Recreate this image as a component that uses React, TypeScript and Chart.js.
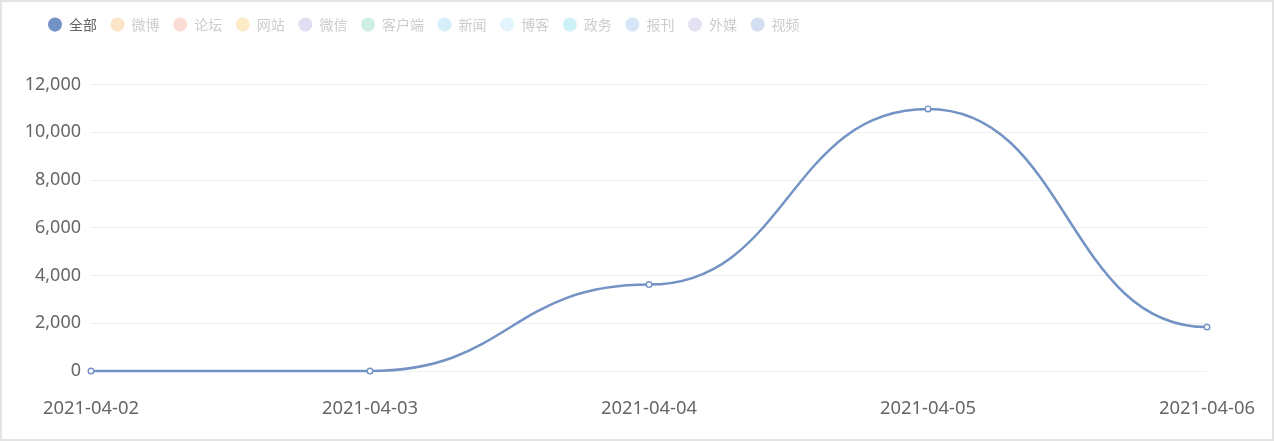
import React, { useEffect, useRef } from "react";
import { Chart, registerables } from "chart.js";

Chart.register(...registerables);

const categories = ["2021-04-02", "2021-04-03", "2021-04-04", "2021-04-05", "2021-04-06"];
const totalValues = [0, 0, 3620, 10980, 1840];
const legendNames = ["全部", "微博", "论坛", "网站", "微信", "客户端", "新闻", "博客", "政务", "报刊", "外媒", "视频"];
const legendColors = [
  "#7393c4", "#fde3c8", "#fbdcd7", "#fdebc8", "#e3ddf3", "#cdf0e3",
  "#d4eefa", "#e3f5fc", "#cdf1f7", "#d5e6f8", "#e3e2f5", "#d3dff1",
];
const legendActive = [true, false, false, false, false, false, false, false, false, false, false, false];
const yTicks = { min: 0, max: 12000, step: 2000 };

const SMOOTH = 0.5;
const LINE_COLOR = "#7393c4";
const LEGEND_SHIFT = 32.4;

// ECharts-like smoothing (horizontal tangents at each point)
const monotoneXSmooth = {
  id: "monotoneXSmooth",
  beforeDatasetDraw(chart: any, args: any) {
    const meta = args.meta;
    const line = meta.dataset;
    const pts = meta.data;
    if (!line || !pts) return;
    if (typeof line.updateControlPoints === "function") {
      line.updateControlPoints(chart.chartArea, "x");
    }
    for (let i = 0; i < pts.length; i++) {
      const p = pts[i];
      const prev = pts[i - 1];
      const next = pts[i + 1];
      p.cp1x = prev ? p.x - SMOOTH * (p.x - prev.x) : p.x;
      p.cp1y = p.y;
      p.cp2x = next ? p.x + SMOOTH * (next.x - p.x) : p.x;
      p.cp2y = p.y;
    }
    line._path = undefined;
  },
};

const legendOffset = {
  id: "legendOffset",
  afterLayout(chart: any) {
    const lg = chart.legend;
    if (lg) lg.left = lg.left + LEGEND_SHIFT;
  },
};

export default function App() {
  const canvasRef = useRef<HTMLCanvasElement | null>(null);

  useEffect(() => {
    if (!canvasRef.current) return;
    const chart = new Chart(canvasRef.current, {
      type: "line",
      data: {
        labels: categories,
        datasets: [
          {
            label: legendNames[0],
            data: totalValues,
            borderColor: LINE_COLOR,
            backgroundColor: LINE_COLOR,
            borderWidth: 2.5,
            tension: 0.4,
            fill: false,
            pointRadius: 2.8,
            pointBorderWidth: 1.4,
            pointBackgroundColor: "#ffffff",
            pointBorderColor: LINE_COLOR,
            clip: false as any,
          },
        ],
      },
      options: {
        responsive: true,
        maintainAspectRatio: false,
        animation: false,
        events: [],
        layout: { padding: { top: 2, left: 0, right: 65, bottom: 19.4 } },
        plugins: {
          tooltip: { enabled: false },
          legend: {
            display: true,
            position: "top",
            align: "start",
            weight: 3000,
            labels: {
              usePointStyle: true,
              pointStyle: "circle",
              boxHeight: 10,
              pointStyleWidth: 14,
              padding: 13.6,
              font: { family: '"Noto Sans CJK SC", "Noto Sans", sans-serif', size: 14 },
              generateLabels: () =>
                legendNames.map((name, i) => ({
                  text: name,
                  fillStyle: legendColors[i],
                  strokeStyle: legendColors[i],
                  lineWidth: 0,
                  hidden: false,
                  fontColor: legendActive[i] ? "#666666" : "#cccccc",
                  pointStyle: "circle",
                  datasetIndex: 0,
                })) as any,
            },
          } as any,
          title: {
            display: true,
            text: "",
            weight: 500,
            font: { size: 10, lineHeight: 1 },
            padding: { top: 0, bottom: 33 },
          } as any,
        },
        scales: {
          x: {
            type: "category",
            offset: false,
            grid: { display: false, drawTicks: false },
            border: { display: false },
            afterFit: (scale: any) => {
              scale.height = 48.6;
              scale.paddingLeft = 0;
              scale.paddingRight = 0;
            },
            ticks: {
              padding: 27,
              autoSkip: false,
              maxRotation: 0,
              color: "#666666",
              font: { family: '"Noto Sans", sans-serif', size: 18.4 },
            },
          },
          y: {
            min: yTicks.min,
            max: yTicks.max,
            grid: { color: "#efefef", lineWidth: 1, drawTicks: false },
            border: { display: false },
            afterFit: (scale: any) => {
              scale.width = 89;
            },
            ticks: {
              stepSize: yTicks.step,
              padding: 10,
              color: "#666666",
              font: { family: '"Noto Sans", sans-serif', size: 18 },
              callback: (v: any) => Number(v).toLocaleString("en-US"),
            },
          },
        },
      },
      plugins: [monotoneXSmooth, legendOffset],
    });
    return () => chart.destroy();
  }, []);

  return (
    <div
      style={{
        position: "absolute",
        left: 0,
        top: 0,
        width: 1274,
        height: 441,
        boxSizing: "border-box",
        border: "2px solid #e4e4e4",
        background: "#ffffff",
      }}
    >
      <div style={{ position: "relative", width: 1270, height: 437 }}>
        <canvas ref={canvasRef} />
      </div>
    </div>
  );
}
